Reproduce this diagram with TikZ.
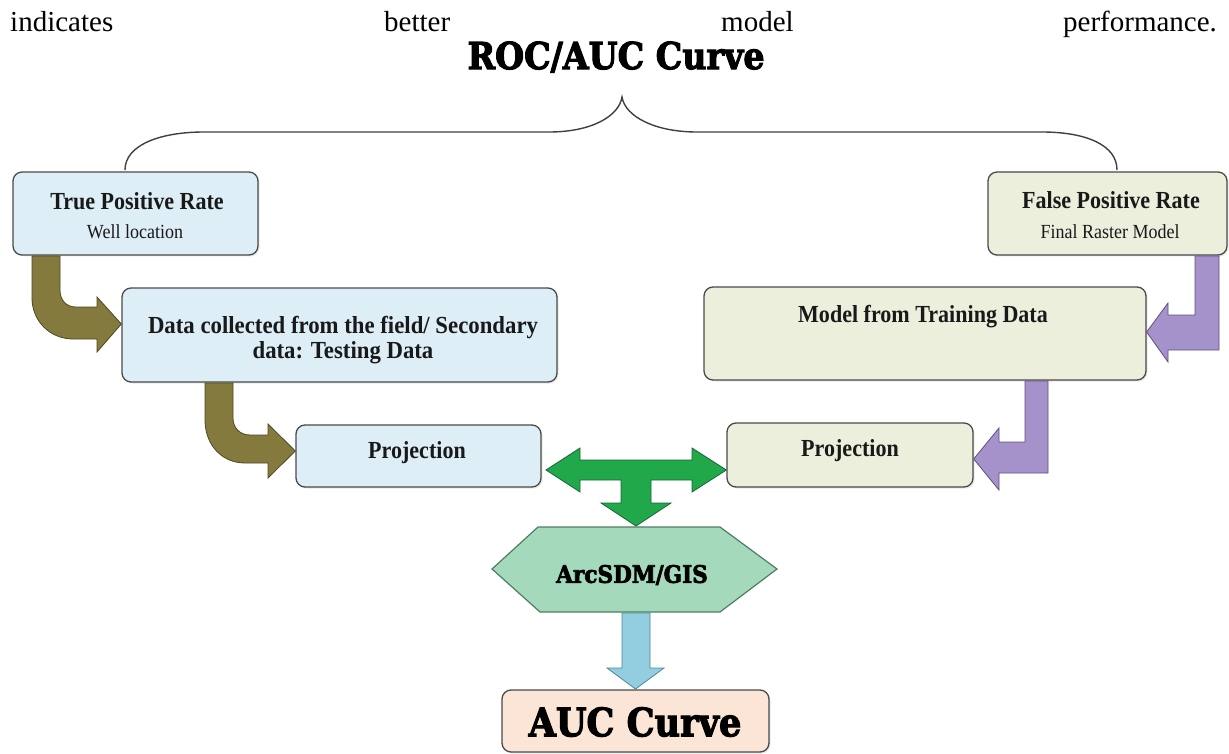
\documentclass[tikz,border=0pt]{standalone}
\usepackage{fontspec}
\setmainfont{Liberation Serif}
\newfontfamily\timesfont{Liberation Serif}
\newfontfamily\heavyfont[FakeBold=3]{DejaVu Serif}
\usetikzlibrary{shadows}
\definecolor{bluefill}{HTML}{DDEEF6}
\definecolor{beigefill}{HTML}{ECEFDB}
\definecolor{boxline}{HTML}{4A4A4A}
\definecolor{olivearrow}{HTML}{857A3E}
\definecolor{oliveline}{HTML}{4F4720}
\definecolor{purplearrow}{HTML}{A692CB}
\definecolor{purpleline}{HTML}{5F5080}
\definecolor{greenarrow}{HTML}{21A84A}
\definecolor{greenline}{HTML}{17663A}
\definecolor{hexfill}{HTML}{A4D9BB}
\definecolor{hexline}{HTML}{4E7E62}
\definecolor{bluearrow}{HTML}{93CDE0}
\definecolor{bluearrowline}{HTML}{4F8799}
\definecolor{peachfill}{HTML}{FBE5D6}
\newcommand{\sqz}[1]{\scalebox{0.9}[1]{#1}}
\tikzset{
  box/.style={draw=boxline, line width=1.3pt, rounded corners=9pt, inner sep=0pt,
    drop shadow={opacity=0.18, shadow xshift=1.5pt, shadow yshift=-1.5pt}},
  btxt/.style={font=\timesfont\fontsize{24.5}{24.5}\selectfont\bfseries, inner sep=0pt, text=black!90},
  stxt/.style={font=\timesfont\fontsize{20}{20}\selectfont, inner sep=0pt, text=black!90},
  para/.style={font=\timesfont\fontsize{29}{29}\selectfont, inner sep=0pt, anchor=base west},
  heavy/.style={inner sep=0pt, text=black},
  blockarrow/.style={line width=0.8pt, line join=miter},
  bracestyle/.style={draw=black!75, line width=1.4pt}
}
\begin{document}
\begin{tikzpicture}[x=1pt,y=-1pt]
\useasboundingbox (0,0) rectangle (1229,754);
\fill[white] (0,0) rectangle (1229,754);

% paragraph line
\node[para] (w1) at (10,32) {indicates};
\node[para] (w2) at (384,32) {better};
\node[para] (w3) at (721,32) {model};
\node[para] (w4) at (1063,32) {performance.};

% title
\node[heavy, font=\heavyfont\bfseries\fontsize{37}{37}\selectfont] (title) at (616,57) {\scalebox{0.9}[1]{ROC/AUC Curve}};

% brace
\coordinate (bl) at (125,170);
\coordinate (br) at (1117,170);
\draw[bracestyle] (bl) .. controls (125,145) and (160,132) .. (204,132) -- (549,132)
  .. controls (592,132) and (619,116) .. (622,97)
  .. controls (625,116) and (654,132) .. (697,132) -- (1042,132)
  .. controls (1086,132) and (1117,145) .. (br);

% boxes
\node[box, fill=bluefill, minimum width=245pt, minimum height=83pt] (tpr) at (135.5,213.5) {};
\node[box, fill=beigefill, minimum width=239pt, minimum height=83pt] (fpr) at (1107.5,213.5) {};
\node[box, fill=bluefill, minimum width=435pt, minimum height=94pt] (data) at (339.5,335) {};
\node[box, fill=beigefill, minimum width=442pt, minimum height=93pt] (model) at (925,333.5) {};
\node[box, fill=bluefill, minimum width=245pt, minimum height=62pt] (projl) at (418.5,456) {};
\node[box, fill=beigefill, minimum width=246pt, minimum height=64pt] (projr) at (850,455) {};
\node[box, fill=peachfill, minimum width=267pt, minimum height=62pt] (auc) at (635.5,721) {};

% hexagon
\filldraw[fill=hexfill, draw=hexline, line width=1.2pt] (492,569) -- (538,527) -- (720,527) -- (777,569) -- (720,612) -- (540,612) -- cycle;

% texts
\node[btxt] (tprt) at (137,201) {\sqz{True Positive Rate}};
\node[stxt] (tprs) at (135,232) {\sqz{Well location}};
\node[btxt] (fprt) at (1111,200) {\sqz{False Positive Rate}};
\node[stxt] (fprs) at (1110,232) {\sqz{Final Raster Model}};
\node[btxt, align=center] (datat) at (343,340) {\scalebox{0.93}[1]{Data collected from the field/ Secondary}\\[1pt]\scalebox{0.93}[1]{data: Testing Data}};
\node[btxt] (modelt) at (923,317) {\sqz{Model from Training Data}};
\node[btxt] (projlt) at (417,453) {\sqz{Projection}};
\node[btxt] (projrt) at (850,451) {\sqz{Projection}};
\node[heavy, font=\heavyfont\bfseries\fontsize{24}{24}\selectfont] (hext) at (632,575) {\scalebox{0.9}[1]{ArcSDM/GIS}};
\node[heavy, font=\heavyfont\bfseries\fontsize{39}{39}\selectfont] (auct) at (635,722) {\scalebox{0.9}[1]{AUC Curve}};

% olive arrows (TPR -> Data, Data -> Projection)
\filldraw[blockarrow, fill=olivearrow, draw=oliveline]
  (32,256) -- (32,298) .. controls (32,321) and (50,339) .. (73,339) -- (97,339)
  -- (97,352) -- (data.west |- 0,324) -- (97,297) -- (97,307) -- (76,307)
  .. controls (66,307) and (60,300) .. (60,290) -- (60,256) -- cycle;
\filldraw[blockarrow, fill=olivearrow, draw=oliveline]
  (205,383) -- (205,420) .. controls (205,445) and (222,463) .. (245,463) -- (268,463)
  -- (268,478) -- (projl.west |- 0,451) -- (268,424) -- (268,435) -- (250,435)
  .. controls (240,435) and (233,428) .. (233,418) -- (233,383) -- cycle;

% purple arrows (FPR -> Model, Model -> Projection)
\filldraw[blockarrow, fill=purplearrow, draw=purpleline]
  (1195,256) -- (1219,256) -- (1219,350) -- (1168,350) -- (1168,362)
  -- (model.east |- 0,332) -- (1168,303) -- (1168,315) -- (1195,315) -- cycle;
\filldraw[blockarrow, fill=purplearrow, draw=purpleline]
  (1025,381) -- (1048,381) -- (1048,473) -- (999,473) -- (999,490)
  -- (projr.east |- 0,459) -- (999,428) -- (999,442) -- (1025,442) -- cycle;

% green T arrow
\filldraw[blockarrow, fill=greenarrow, draw=greenline]
  (546,470) -- (580,448) -- (580,460) -- (692,460) -- (692,448)
  -- (projr.west |- 0,470) -- (692,492) -- (692,480) -- (651,480) -- (651,503)
  -- (671,503) -- (636,526) -- (601,503) -- (621,503) -- (621,480)
  -- (580,480) -- (580,492) -- cycle;

% blue arrow
\filldraw[blockarrow, fill=bluearrow, draw=bluearrowline]
  (622,613) -- (650,613) -- (650,668) -- (664,668) -- (auc.north |- 0,689)
  -- (607,668) -- (622,668) -- cycle;
\end{tikzpicture}
\end{document}
